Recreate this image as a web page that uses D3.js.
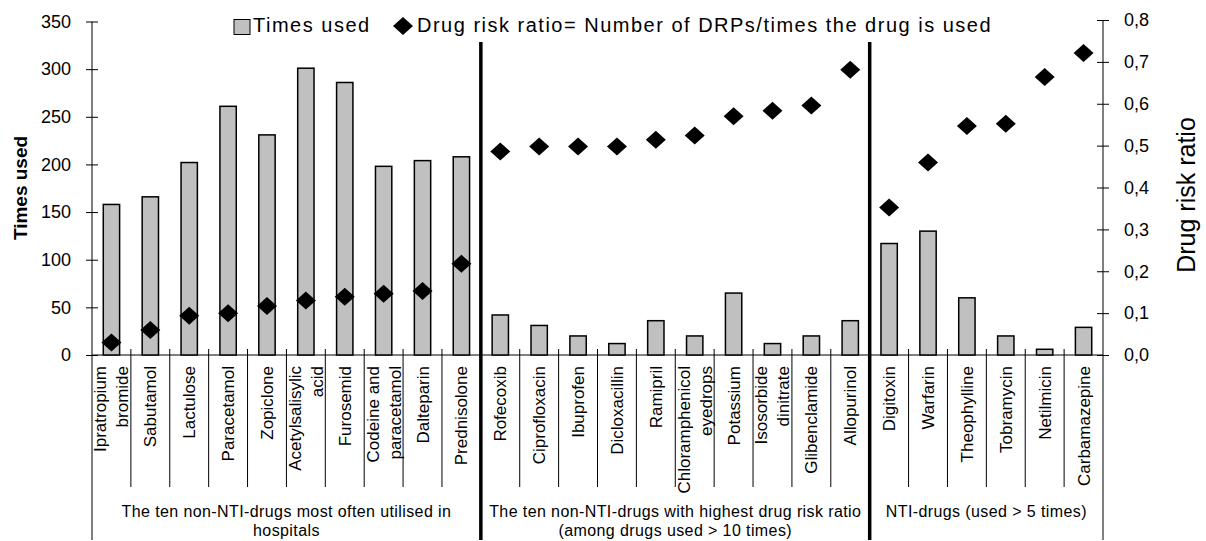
<!DOCTYPE html>
<html>
<head>
<meta charset="utf-8">
<script src="https://cdn.jsdelivr.net/npm/d3@7"></script>
<style>
body { margin: 0; background: #fff; }
svg { display: block; font-family: "Liberation Sans", Arial, sans-serif; }
</style>
</head>
<body>
<script>
// categories, line breaks marked with \n
var drugs = [
    "Ipratropium\nbromide", "Sabutamol", "Lactulose", "Paracetamol", "Zopiclone",
    "Acetylsalisylic\nacid", "Furosemid", "Codeine and\nparacetamol", "Dalteparin", "Prednisolone",
    "Rofecoxib", "Ciprofloxacin", "Ibuprofen", "Dicloxacillin", "Ramipril",
    "Chloramphenicol\neyedrops", "Potassium", "Isosorbide\ndinitrate", "Glibenclamide", "Allopurinol",
    "Digitoxin", "Warfarin", "Theophylline", "Tobramycin", "Netilmicin", "Carbamazepine"
];
var timesUsed = [158, 166, 202, 261, 231, 301, 286, 198, 204, 208,
    42, 31, 20, 12, 36, 20, 65, 12, 20, 36,
    117, 130, 60, 20, 6, 29];
var riskRatio = [0.03, 0.06, 0.094, 0.1, 0.117, 0.13, 0.139, 0.146, 0.153, 0.218,
    0.486, 0.498, 0.498, 0.498, 0.514, 0.524, 0.57, 0.583, 0.596, 0.681,
    0.352, 0.46, 0.547, 0.552, 0.664, 0.721];
var groupLabels = [
    ["The ten non-NTI-drugs most often utilised in", "hospitals"],
    ["The ten non-NTI-drugs with highest drug risk ratio", "(among drugs used > 10 times)"],
    ["NTI-drugs  (used > 5 times)"]
];
var groupSizes = [10, 10, 6];
var leftTicks = [0, 50, 100, 150, 200, 250, 300, 350];
var rightTicks = [0, 0.1, 0.2, 0.3, 0.4, 0.5, 0.6, 0.7, 0.8];
var legendLabels = ["Times used", "Drug risk ratio= Number of DRPs/times the drug is used"];

var w = 1206,
    h = 541;
var left = 92, right = 1103, base = 355, bottom = 540;

var svg = d3.select("body").append("svg")
    .attr("width", w)
    .attr("height", h);

var x = d3.scaleBand().domain(d3.range(drugs.length)).range([left, right]);
var yL = d3.scaleLinear().domain([0, 350]).range([base, 21.5]);
var yR = d3.scaleLinear().domain([0, 0.8]).range([base, 20]);
var barW = x.bandwidth() * 0.42;
var diamond = "M0,-9L10,0L0,9L-10,0Z";

// left axis
var gl = svg.append("g")
    .attr("transform", "translate(" + left + ",0)")
    .call(d3.axisLeft(yL).tickValues(leftTicks).tickSize(6).tickPadding(15));
gl.select(".domain").remove();
gl.selectAll(".tick line").attr("x1", -6).attr("x2", 6).attr("stroke", "#000");
gl.selectAll(".tick text").attr("font-size", 18).attr("fill", "#000").attr("font-family", null);

// right axis
var gr = svg.append("g")
    .attr("transform", "translate(" + right + ",0)")
    .call(d3.axisRight(yR).tickValues(rightTicks).tickSize(6).tickPadding(15)
        .tickFormat(function (d) { return d3.format(".1f")(d).replace(".", ","); }));
gr.select(".domain").remove();
gr.selectAll(".tick line").attr("x1", -6).attr("x2", 6).attr("stroke", "#000");
gr.selectAll(".tick text").attr("font-size", 18).attr("fill", "#000").attr("font-family", null);

svg.append("line").attr("x1", left).attr("x2", left).attr("y1", yL(350)).attr("y2", bottom)
    .attr("stroke", "#000").attr("stroke-width", 1);
svg.append("line").attr("x1", right).attr("x2", right).attr("y1", yR(0.8)).attr("y2", bottom)
    .attr("stroke", "#000").attr("stroke-width", 1);
svg.append("line").attr("x1", left).attr("x2", right).attr("y1", base).attr("y2", base)
    .attr("stroke", "#000").attr("stroke-width", 1);

// group boundaries
var bounds = [];
var acc = 0;
groupSizes.forEach(function (n) { bounds.push([acc, acc + n]); acc += n; });

// category dividers
svg.append("g").selectAll("line")
    .data(d3.range(1, drugs.length).filter(function (i) { return i != 10 && i != 20; }))
    .enter().append("line")
    .attr("x1", function (i) { return x(i); })
    .attr("x2", function (i) { return x(i); })
    .attr("y1", base - 6)
    .attr("y2", 487)
    .attr("stroke", "#000");

// bars
svg.append("g").selectAll("rect")
    .data(timesUsed)
    .enter().append("rect")
    .attr("x", function (d, i) { return x(i) + x.bandwidth() / 2 - barW / 2; })
    .attr("y", function (d) { return yL(d); })
    .attr("width", barW)
    .attr("height", function (d) { return base - yL(d); })
    .attr("fill", "#c0c0c0")
    .attr("stroke", "#000")
    .attr("stroke-width", 1.5);

// thick separators
svg.append("g").selectAll("line")
    .data([10, 20])
    .enter().append("line")
    .attr("x1", function (i) { return x(i); })
    .attr("x2", function (i) { return x(i); })
    .attr("y1", 42)
    .attr("y2", bottom)
    .attr("stroke", "#000")
    .attr("stroke-width", 3.5);

// diamonds
svg.append("g").selectAll("path")
    .data(riskRatio)
    .enter().append("path")
    .attr("d", diamond)
    .attr("transform", function (d, i) {
        return "translate(" + (x(i) + x.bandwidth() / 2) + "," + yR(d) + ")";
    })
    .attr("fill", "#000");

// category labels
var cl = svg.append("g").selectAll("text")
    .data(drugs)
    .enter().append("text")
    .attr("transform", function (d, i) {
        return "translate(" + (x(i) + x.bandwidth() / 2) + ",366) rotate(-90)";
    })
    .attr("text-anchor", "end")
    .attr("font-size", 17);
cl.each(function (d) {
    var lines = d.split("\n");
    var t = d3.select(this);
    lines.forEach(function (s, k) {
        t.append("tspan")
            .attr("x", 0)
            .attr("y", (k - (lines.length - 1) / 2) * 22 + 6)
            .text(s);
    });
});

// group labels
groupLabels.forEach(function (lines, g) {
    var cx = (x(bounds[g][0]) + (bounds[g][1] < drugs.length ? x(bounds[g][1]) : right)) / 2;
    var t = svg.append("text")
        .attr("text-anchor", "middle")
        .attr("font-size", 16)
        .attr("letter-spacing", 0.4);
    lines.forEach(function (s, k) {
        t.append("tspan").attr("x", cx).attr("y", 517 + k * 19).text(s);
    });
});

// axis titles
svg.append("text")
    .attr("transform", "translate(27,188) rotate(-90)")
    .attr("text-anchor", "middle")
    .attr("font-size", 19)
    .attr("font-weight", "bold")
    .text("Times used");
svg.append("text")
    .attr("transform", "translate(1195,195) rotate(-90)")
    .attr("text-anchor", "middle")
    .attr("font-size", 25)
    .text("Drug risk ratio");

// legend
svg.append("rect")
    .attr("x", 234).attr("y", 19.5).attr("width", 16).attr("height", 15)
    .attr("fill", "#c0c0c0").attr("stroke", "#000").attr("stroke-width", 1);
svg.append("text").attr("x", 253).attr("y", 32)
    .attr("font-size", 20).attr("letter-spacing", 1.5)
    .text(legendLabels[0]);
svg.append("path").attr("d", diamond).attr("transform", "translate(403,26)").attr("fill", "#000");
svg.append("text").attr("x", 417).attr("y", 32)
    .attr("font-size", 20).attr("letter-spacing", 1.5)
    .text(legendLabels[1]);
</script>
</body>
</html>
